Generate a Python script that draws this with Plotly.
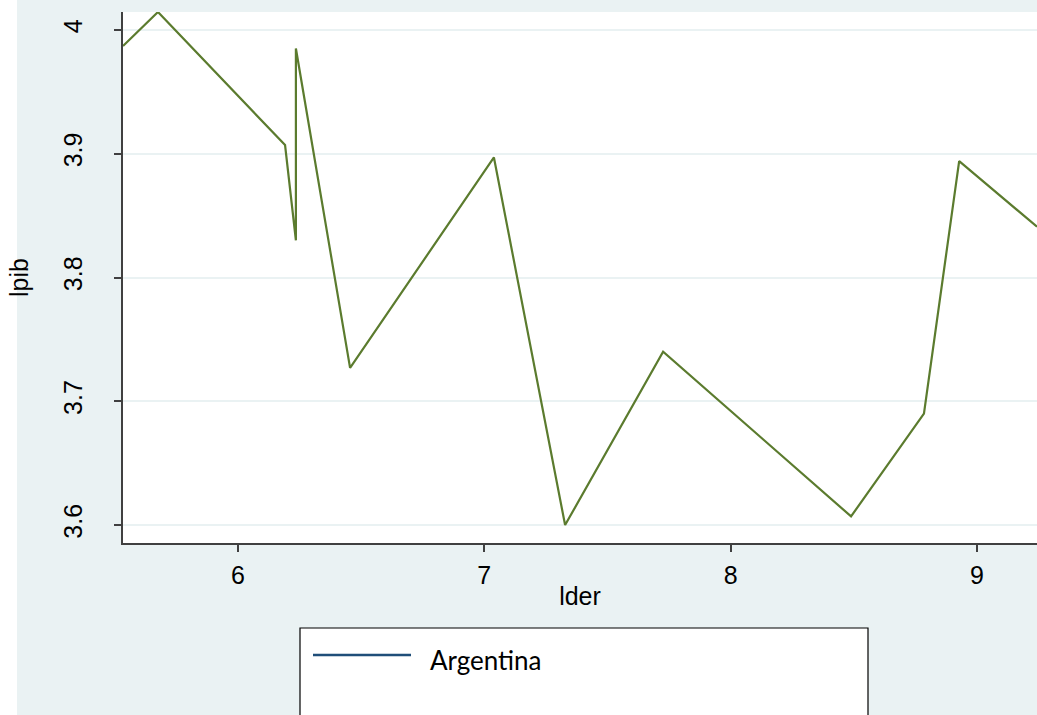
import plotly.graph_objects as go

# lder / lpib series for Argentina, in observation order
lder = [5.533, 5.675, 6.191, 6.235, 6.235, 6.455, 7.039, 7.328, 7.726, 8.489, 8.785, 8.928, 9.244]
lpib = [3.987, 4.0145, 3.907, 3.830, 3.985, 3.727, 3.897, 3.600, 3.740, 3.607, 3.690, 3.894, 3.841]
country = "Argentina"
x_ticks = [6, 7, 8, 9]
y_ticks = [3.6, 3.7, 3.8, 3.9, 4.0]
y_tick_text = ["3.6", "3.7", "3.8", "3.9", "4"]

W, H = 1037, 715
L, R, T, B = 123, 0, 12, 172
bg = "#EAF2F3"
line_col = "#5B7B2E"
legend_col = "#1F4E79"

fig = go.Figure()
fig.add_trace(go.Scatter(x=lder, y=lpib, mode="lines",
                         line=dict(color=line_col, width=2.2),
                         name=country, showlegend=False))

axis_font = dict(family="Liberation Sans Narrow, Liberation Sans, sans-serif", size=25, color="#000000")

fig.update_layout(
    width=W, height=H,
    margin=dict(l=L, r=R, t=T, b=B),
    paper_bgcolor=bg,
    plot_bgcolor="white",
    font=axis_font,
    xaxis=dict(range=[min(lder), max(lder)], tickvals=x_ticks,
               ticks="outside", ticklen=7, tickwidth=1.5, tickcolor="#404040",
               showline=True, linecolor="#404040", linewidth=1.5,
               showgrid=False, zeroline=False,
               tickfont=axis_font, ticklabelstandoff=2,
               title=dict(text="lder", font=axis_font, standoff=0)),
    yaxis=dict(range=[3.5855, 4.0145], tickvals=y_ticks, ticktext=y_tick_text,
               tickangle=-90,
               ticks="outside", ticklen=7, tickwidth=1.5, tickcolor="#404040",
               showline=True, linecolor="#404040", linewidth=1.5,
               showgrid=True, gridcolor=bg, gridwidth=2, zeroline=False,
               tickfont=axis_font, ticklabelstandoff=22,
               title=dict(text="lpib", font=axis_font, standoff=24)),
)

# pixel -> paper coordinate helpers
pw = W - L - R
ph = H - T - B
def px(x):
    return (x - L) / pw
def py(y):
    return (H - B - y) / ph

# white strip along the left edge of the page
fig.add_shape(type="rect", xref="paper", yref="paper", layer="below",
              x0=px(-2), x1=px(17), y0=py(H + 2), y1=py(-2),
              fillcolor="white", line=dict(width=0))

# legend box
fig.add_shape(type="rect", xref="paper", yref="paper",
              x0=px(300), x1=px(868), y0=py(720), y1=py(628),
              fillcolor="white", line=dict(color="#000000", width=1.2))
fig.add_shape(type="line", xref="paper", yref="paper",
              x0=px(313), x1=px(411), y0=py(655), y1=py(655),
              line=dict(color=legend_col, width=2.5))
fig.add_annotation(xref="paper", yref="paper", x=px(428), y=py(660),
                   text=country, showarrow=False, xanchor="left", yanchor="middle",
                   font=dict(family="Lato, Open Sans, sans-serif", size=26, color="#000000"))

fig.write_html("out.html")
